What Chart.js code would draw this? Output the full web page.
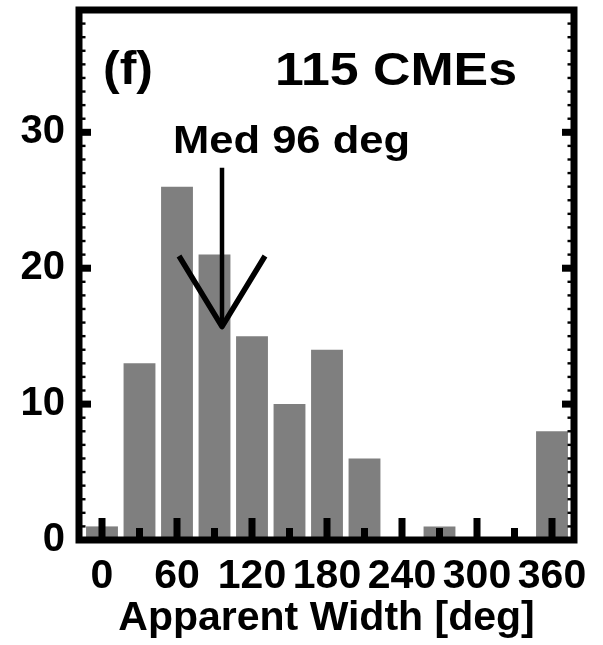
<!DOCTYPE html>
<html>
<head>
<meta charset="utf-8">
<script src="https://cdn.jsdelivr.net/npm/chart.js@4.4.1/dist/chart.umd.min.js"></script>
<style>
  html, body { margin: 0; padding: 0; background: #fff; overflow: hidden; }
  #wrap { width: 603px; height: 645px; }
</style>
</head>
<body>
<div id="wrap"><canvas id="c" width="603" height="645"></canvas></div>
<script>
// Histogram of CME apparent angular widths, 30-degree bins
const binCenters = [0, 30, 60, 90, 120, 150, 180, 210, 240, 270, 300, 330, 360];
const cmeCounts  = [1, 13, 26, 21, 15, 10, 14, 6, 0, 1, 0, 0, 8];

const xTickValues      = [0, 60, 120, 180, 240, 300, 360];
const xMinorTickValues = [30, 90, 150, 210, 270, 330];
const yTickValues      = [0, 10, 20, 30];

const medianWidth = 96;
const panelLabel  = '(f)';
const xAxisTitle  = 'Apparent Width [deg]';

// median arrow, in data units
const arrowTopY   = 27.4;
const arrowTipY   = 15.7;
const headSpreadX = 34.4;
const headRiseY   = 5.2;

const totalCount = cmeCounts.reduce((a, b) => a + b, 0);
const FONT = '"Liberation Sans", Arial, Helvetica, sans-serif';

// draws text stretched horizontally to a given width
function stretchedText(ctx, str, x, baseline, size, width) {
  ctx.font = 'bold ' + size + 'px ' + FONT;
  const w = ctx.measureText(str).width;
  ctx.save();
  ctx.translate(x, baseline);
  ctx.scale(width / w, 1);
  ctx.textAlign = 'left';
  ctx.textBaseline = 'alphabetic';
  ctx.fillText(str, 0, 0);
  ctx.restore();
}

// fixed axis sizes, no extra label padding around the plot box
function fixScaleSize(prop, size) {
  return s => {
    s[prop] = size;
    s.paddingTop = 0; s.paddingBottom = 0;
    s.paddingLeft = 0; s.paddingRight = 0;
  };
}

const framePlugin = {
  id: 'frameAndMarks',
  afterDatasetsDraw(chart) {
    const ctx = chart.ctx;
    const ca = chart.chartArea;
    const xs = chart.scales.x;
    const ys = chart.scales.y;
    ctx.save();
    ctx.fillStyle = '#000';

    // inward ticks along the bottom axis
    xTickValues.forEach(v => {
      const px = xs.getPixelForValue(v);
      ctx.fillRect(px - 3.5, ca.bottom - 22, 7, 22);
    });
    xMinorTickValues.forEach(v => {
      const px = xs.getPixelForValue(v);
      ctx.fillRect(px - 3.5, ca.bottom - 12, 7, 12);
    });

    // inward ticks on left and right axes
    for (let v = 1; v < ys.max; v++) {
      const py = ys.getPixelForValue(v);
      if (v % 10 === 0) {
        ctx.fillRect(ca.left, py - 3.5, 12, 7);
        ctx.fillRect(ca.right - 12, py - 3.5, 12, 7);
      } else {
        ctx.fillRect(ca.left, py - 1.2, 6.5, 2.4);
        ctx.fillRect(ca.right - 6.5, py - 1.2, 6.5, 2.4);
      }
    }

    // plot frame
    ctx.strokeStyle = '#000';
    ctx.lineWidth = 7;
    ctx.strokeRect(ca.left, ca.top, ca.right - ca.left, ca.bottom - ca.top);

    // median arrow
    const mx = xs.getPixelForValue(medianWidth);
    ctx.lineWidth = 4.5;
    ctx.lineCap = 'butt';
    ctx.lineJoin = 'round';
    ctx.beginPath();
    ctx.moveTo(mx, ys.getPixelForValue(arrowTopY));
    ctx.lineTo(mx, ys.getPixelForValue(arrowTipY));
    ctx.stroke();
    ctx.lineWidth = 5.5;
    ctx.beginPath();
    ctx.moveTo(xs.getPixelForValue(medianWidth - headSpreadX), ys.getPixelForValue(arrowTipY + headRiseY));
    ctx.lineTo(mx, ys.getPixelForValue(arrowTipY));
    ctx.lineTo(xs.getPixelForValue(medianWidth + headSpreadX), ys.getPixelForValue(arrowTipY + headRiseY));
    ctx.stroke();

    // annotations
    stretchedText(ctx, panelLabel, 103, 84, 47, 50);
    stretchedText(ctx, totalCount + ' CMEs', 275, 85, 46, 242);
    stretchedText(ctx, 'Med ' + medianWidth + ' deg', 173, 153, 38, 237);

    ctx.restore();
  }
};

new Chart(document.getElementById('c').getContext('2d'), {
  type: 'bar',
  data: {
    datasets: [{
      data: binCenters.map((x, i) => ({ x: x, y: cmeCounts[i] })),
      backgroundColor: '#7f7f7f',
      borderWidth: 0,
      barPercentage: 0.85,
      categoryPercentage: 1.0
    }]
  },
  options: {
    responsive: false,
    animation: false,
    devicePixelRatio: 1,
    layout: { padding: { left: 0, right: 29, top: 10, bottom: 0 } },
    plugins: { legend: { display: false }, tooltip: { enabled: false } },
    scales: {
      x: {
        type: 'linear',
        min: -18.4,
        max: 377.6,
        offset: false,
        grid: { display: false, drawTicks: false },
        border: { display: false },
        afterBuildTicks: s => { s.ticks = xTickValues.map(v => ({ value: v })); },
        afterFit: fixScaleSize('height', 105),
        ticks: {
          autoSkip: false, maxRotation: 0, minRotation: 0,
          padding: 12, color: '#000',
          font: { family: FONT, size: 41, weight: 'bold' }
        },
        title: {
          display: true, text: xAxisTitle, color: '#000',
          padding: { top: 0, bottom: 2 },
          font: { family: FONT, size: 41, weight: 'bold' }
        }
      },
      y: {
        min: 0,
        max: 39,
        grid: { display: false, drawTicks: false },
        border: { display: false },
        afterBuildTicks: s => { s.ticks = yTickValues.map(v => ({ value: v })); },
        afterFit: fixScaleSize('width', 79),
        ticks: {
          padding: 14, color: '#000',
          font: { family: FONT, size: 40, weight: 'bold' }
        }
      }
    }
  },
  plugins: [framePlugin]
});
</script>
</body>
</html>
